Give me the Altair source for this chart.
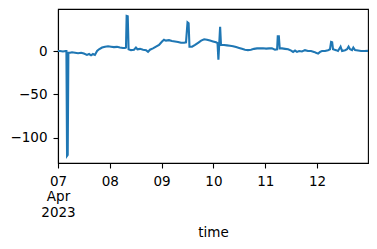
import altair as alt
import pandas as pd

# hours after 2023-04-07 00:00
hours = [0, 0.9, 2.3, 3.5, 3.9, 4.2, 4.5, 4.8, 5.6, 6.5, 7.9, 9.3, 10.7, 12, 13.4, 14.4, 15.3, 16.2, 17.1,
         18.1, 19, 20.4, 21.8, 23.2, 24.6, 25.9, 27.3, 28.7, 30.1, 31, 31.5, 31.8, 32.3, 32.7, 33.8, 35.2,
         36.1, 36.8, 38, 39.4, 40.8, 41.7, 42.6, 44, 45.4, 46.8, 48.2, 49.1, 50, 51.4, 52.8, 54.2, 55.6,
         57, 58.4, 59.3, 60, 60.5, 60.9, 62.1, 63.5, 64.9, 66.3, 67.7, 69, 70.4, 71.8, 73.2, 73.9, 74.3,
         74.7, 75.1, 75.5, 76.9, 78.3, 79.7, 81.1, 82.5, 83.9, 85.2, 86.6, 88, 89.4, 90.8, 92.2, 93.6, 95,
         96.4, 97.8, 99.1, 100.5, 101.5, 101.8, 102.3, 102.7, 103.8, 105.2, 106.6, 108, 108.9, 109.8,
         110.7, 111.7, 113, 114.4, 115.8, 117.2, 118.6, 119.5, 120.5, 121.4, 122.3, 123.7, 125.1, 126,
         126.5, 127, 127.4, 128.8, 129.7, 130.9, 131.6, 133, 133.9, 134.6, 135.3, 136.2, 136.8, 137.6,
         139, 140.4, 141.8, 143.6]
values = [0, 0, -0.5, 0, 0, -121, -120, -2, -2, -1.5, -2, -2.5, -2, -3, -4.5, -3.5, -5, -3.5, -4.5,
          0, 2, 4, 5, 5.5, 5, 4.5, 4.8, 4, 3.5, 3.5, 4, 40.4, 40, 2, 1, 1.5,
          4, 2, 2.5, 1.5, 1, -1, 1.5, 3, 5, 7, 11, 13, 12, 12.5, 11.5, 11, 10.5,
          9.5, 9.5, 10, 33, 32, 5, 5, 7, 9.5, 12, 13.5, 13, 12, 11, 10, 9, -10,
          9, 28, 7, 7, 6.5, 6, 5.5, 4.5, 3.5, 2.5, 1.5, 1, 1.5, 2.5, 3, 3, 3.2,
          2.8, 3, 3, 1.5, 2, 17, 17, 3, 3, 2.5, 2, 0.5, -1, 0.5,
          -1, 0, -0.5, 1, 0, 0, -1, -2, -3, -1, 0, 0, 1, 2,
          10.5, 10, 2, 1, 0, 5, 0, 1, 2, 5, 2, 1, 4, 1,
          0.5, 0, 0, 0.2]

x_tick_days = ["2023-04-07", "2023-04-08", "2023-04-09", "2023-04-10", "2023-04-11", "2023-04-12"]
y_ticks = [-100, -50, 0]

base = pd.Timestamp("2023-04-07 00:00")
df = pd.DataFrame({
    "time": [(base + pd.Timedelta(hours=h)).strftime("%Y-%m-%dT%H:%M:%S") for h in hours],
    "value": values,
})

x_vals = [alt.DateTime(year=2023, month=4, date=int(d[-2:])) for d in x_tick_days]

chart = alt.Chart(df).mark_line(color="#1f77b4", strokeWidth=2.1, clip=True).encode(
    x=alt.X("time:T", title="time",
            scale=alt.Scale(domain=[alt.DateTime(year=2023, month=4, date=7),
                                    alt.DateTime(year=2023, month=4, date=12, hours=23, minutes=36)]),
            axis=alt.Axis(values=x_vals, grid=False,
                          labelExpr="timeFormat(datum.value, '%d') == '07' ? ['07', 'Apr', '2023'] : timeFormat(datum.value, '%d')",
                          labelLineHeight=15.5, labelAlign="center", labelBaseline="top",
                          labelFlush=False, labelOverlap=False, labelPadding=6)),
    y=alt.Y("value:Q", title=None,
            scale=alt.Scale(domain=[-129.3, 48.5], nice=False, zero=False),
            axis=alt.Axis(values=y_ticks, grid=False, labelPadding=6,
                          labelExpr="replace(format(datum.value, 'd'), '-', '\u2212')")),
).properties(
    width=310, height=154,
    background="white",
    autosize=alt.AutoSizeParams(type="none"),
    padding={"left": 58, "top": 9, "right": 9, "bottom": 86},
).configure_view(
    stroke="black", strokeWidth=1.1
).configure_axis(
    domainColor="black", domainWidth=1.1, tickColor="black", tickWidth=1.1, tickSize=5,
    labelFont="DejaVu Sans", labelFontSize=13.5, labelColor="black",
    titleFont="DejaVu Sans", titleFontSize=13.5, titleColor="black", titleFontWeight="normal",
    titlePadding=7,
)

chart.save("out.html", embed_options={"renderer": "svg", "actions": False})
